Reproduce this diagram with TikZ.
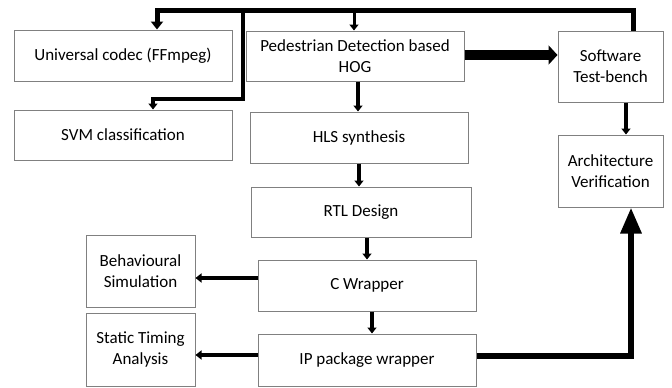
\documentclass[tikz,border=0pt]{standalone}
\usepackage{fontspec}
\setmainfont{Carlito}
\usetikzlibrary{arrows.meta}
\definecolor{boxgray}{RGB}{128,128,128}
\begin{document}
\begin{tikzpicture}[x=1pt,y=-1pt,
  box/.style={draw=boxgray, line width=1pt, fill=white, inner sep=0pt, align=center,
    font=\fontsize{17}{21}\selectfont},
  conn/.style={line width=#1, draw=black},
  small/.style={-{Triangle[width=9pt,length=6pt]}},
  mid/.style={-{Triangle[width=12pt,length=8pt]}}
]
\useasboundingbox (0,0) rectangle (672,388);
\fill[white] (0,0) rectangle (672,388);

% boxes
\node[box, minimum width=218, minimum height=51] (codec) at (123,55.5) {Universal codec (FFmpeg)};
\node[box, minimum width=218, minimum height=50] (svm) at (123,135) {SVM classification};
\node[box, minimum width=218, minimum height=50] (ped) at (355,56) {Pedestrian Detection based\\HOG};
\node[box, minimum width=218, minimum height=51] (hls) at (359,137.5) {HLS synthesis};
\node[box, minimum width=220, minimum height=50] (rtl) at (361,212) {RTL Design};
\node[box, minimum width=218, minimum height=51] (cw) at (367,285.5) {C Wrapper};
\node[box, minimum width=218, minimum height=52] (ip) at (367,360) {IP package wrapper};
\node[box, minimum width=109, minimum height=72] (beh) at (140.5,271) {Behavioural\\Simulation};
\node[box, minimum width=109, minimum height=73] (sta) at (140.5,349.5) {Static Timing\\Analysis};
\node[box, minimum width=105, minimum height=71] (sw) at (610.5,66.5) {Software\\Test-bench};
\node[box, minimum width=105, minimum height=72] (arch) at (610.5,171) {Architecture\\Verification};

% helper coordinates
\coordinate (topR) at (633,10);
\coordinate (topL) at (157,10);
\coordinate (topP) at (354,10);
\coordinate (brT) at (243,10);
\coordinate (brB) at (243,99);
\coordinate (brL) at (153,99);
\coordinate (xph) at (358,0);
\coordinate (xhr) at (359,0);
\coordinate (xrc) at (367,0);
\coordinate (xci) at (372,0);
\coordinate (xsa) at (626,0);
\coordinate (xia) at (631,0);
\coordinate (ycb) at (0,278);
\coordinate (yis) at (0,355);
\coordinate (yps) at (0,55);
\coordinate (yia) at (0,356);

% feedback from software test-bench
\draw[conn=5pt, mid] (sw.north -| topR) -- (topR) -- (topL) -- (codec.north -| topL);
\draw[conn=3pt, small] (topP) -- (ped.north -| topP);
\draw[conn=3.5pt, small] (brT) -- (brB) -- (brL) -- (svm.north -| brL);

% main flow
\draw[conn=10pt, -{Triangle[width=19pt,length=9pt]}] (ped.east |- yps) -- (sw.west |- yps);
\draw[conn=4pt, small] (ped.south -| xph) -- (hls.north -| xph);
\draw[conn=4pt, small] (hls.south -| xhr) -- (rtl.north -| xhr);
\draw[conn=4pt, small] (rtl.south -| xrc) -- (cw.north -| xrc);
\draw[conn=4pt, small] (cw.south -| xci) -- (ip.north -| xci);
\draw[conn=4.5pt, small] (cw.west |- ycb) -- (beh.east |- ycb);
\draw[conn=4.5pt, small] (ip.west |- yis) -- (sta.east |- yis);
\draw[conn=4pt, small] (sw.south -| xsa) -- (arch.north -| xsa);
\draw[conn=6pt, -{Triangle[width=20pt,length=26pt]}] (ip.east |- yia) -| (arch.south -| xia);
\end{tikzpicture}
\end{document}
